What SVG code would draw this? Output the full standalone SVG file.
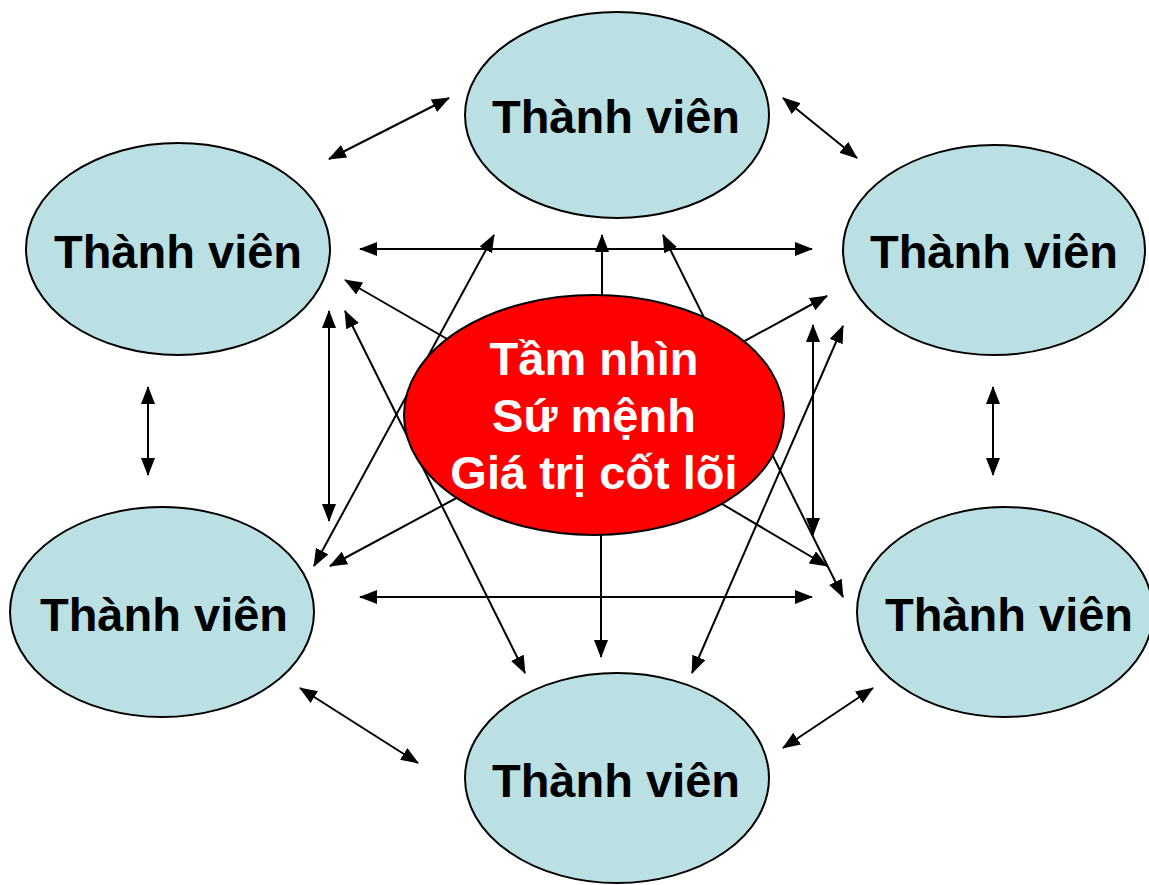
<svg xmlns="http://www.w3.org/2000/svg" width="1149" height="885" viewBox="0 0 1149 885">
<defs>
<style>
.member{fill:#BBE0E3;stroke:#000;stroke-width:2}
.core{fill:#FF0000;stroke:#000;stroke-width:2}
.lbl{font-family:"Liberation Sans",Arial,sans-serif;font-weight:bold;font-size:47px;text-anchor:middle;fill:#000}
.clbl{font-family:"Liberation Sans",Arial,sans-serif;font-weight:bold;font-size:47px;text-anchor:middle;fill:#fff}
.c line{stroke:#000;stroke-width:2;fill:none}
.d{marker-start:url(#ah);marker-end:url(#ah)}
.s{marker-end:url(#ah)}
</style>
<marker id="ah" markerUnits="userSpaceOnUse" markerWidth="18" markerHeight="14" refX="17" refY="7" orient="auto-start-reverse" viewBox="0 0 18 14">
<path d="M0,0 L18,7 L0,14 z" fill="#000"/>
</marker>
</defs>
<rect width="1149" height="885" fill="#fff"/>
<g id="member-top"><ellipse class="member" cx="617" cy="115" rx="152" ry="103"/><text class="lbl" x="616" y="133">Thành viên</text></g>
<g id="member-upper-left"><ellipse class="member" cx="178" cy="249" rx="152" ry="106"/><text class="lbl" x="178" y="268">Thành viên</text></g>
<g id="member-upper-right"><ellipse class="member" cx="994" cy="250" rx="151" ry="105"/><text class="lbl" x="994" y="268">Thành viên</text></g>
<g id="member-lower-left"><ellipse class="member" cx="162" cy="612" rx="152" ry="105"/><text class="lbl" x="164" y="631">Thành viên</text></g>
<g id="member-lower-right"><ellipse class="member" cx="1005" cy="612" rx="148" ry="105"/><text class="lbl" x="1009" y="631">Thành viên</text></g>
<g id="member-bottom"><ellipse class="member" cx="617" cy="778" rx="152" ry="105"/><text class="lbl" x="616" y="797">Thành viên</text></g>
<g id="connectors" class="c">
<line class="d" x1="329" y1="159" x2="449" y2="98"/>
<line class="d" x1="783" y1="98" x2="857" y2="158"/>
<line class="d" x1="148" y1="387" x2="148" y2="475"/>
<line class="d" x1="993" y1="387" x2="993" y2="475"/>
<line class="d" x1="300" y1="688" x2="418" y2="763"/>
<line class="d" x1="783" y1="748" x2="873" y2="688"/>
<line class="d" x1="360" y1="249" x2="812" y2="249"/>
<line class="d" x1="360" y1="597" x2="812" y2="597"/>
<line class="d" x1="329" y1="311" x2="329" y2="521"/>
<line class="d" x1="813" y1="325" x2="813" y2="535"/>
<line class="s" x1="602" y1="330" x2="602" y2="235"/>
<line class="s" x1="601" y1="500" x2="601" y2="657"/>
<line class="s" x1="480" y1="358" x2="345" y2="280"/>
<line class="s" x1="710" y1="360" x2="827" y2="296"/>
<line class="s" x1="490" y1="480" x2="330" y2="566"/>
<line class="s" x1="690" y1="485" x2="827" y2="566"/>
<line class="d" x1="494" y1="235" x2="314" y2="566"/>
<line class="d" x1="345" y1="311" x2="525" y2="673"/>
<line class="d" x1="663" y1="235" x2="843" y2="597"/>
<line class="d" x1="843" y1="326" x2="692" y2="673"/>
</g>
<g id="core"><ellipse class="core" cx="594" cy="415" rx="190" ry="120"/>
<text class="clbl" x="594" y="375">Tầm nhìn</text>
<text class="clbl" x="594" y="432">Sứ mệnh</text>
<text class="clbl" x="594" y="489">Giá trị cốt lõi</text></g>
</svg>
